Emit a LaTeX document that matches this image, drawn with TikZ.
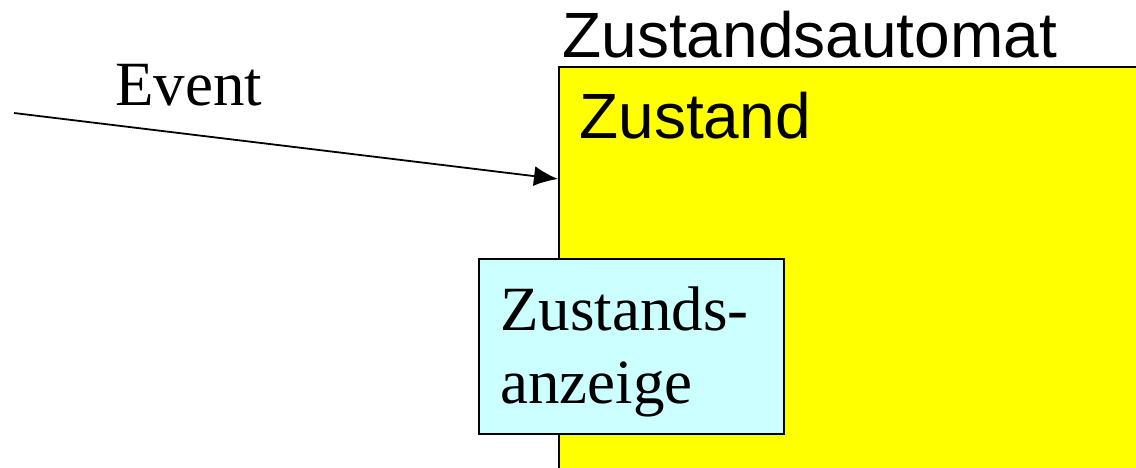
\documentclass[tikz,border=0pt]{standalone}
\usepackage{fontspec}
\setmainfont{Liberation Serif}
\setsansfont{Liberation Sans}
\usetikzlibrary{arrows.meta}
\definecolor{stateyellow}{HTML}{FFFF00}
\definecolor{dispcyan}{HTML}{CCFFFF}
\tikzset{
  boxline/.style={draw=black, line width=0.75pt},
  sanslabel/.style={font=\sffamily\fontsize{32pt}{37pt}\selectfont, inner sep=0pt, anchor=base west},
  seriflabel/.style={font=\rmfamily\fontsize{31.5pt}{37pt}\selectfont, inner sep=0pt, anchor=base west},
  eventarrow/.style={line width=0.9pt, -{Latex[length=12pt,width=10pt]}}
}
\begin{document}
\begin{tikzpicture}[x=0.5pt,y=-0.5pt]
\clip (0,0) rectangle (1136,467);
\fill[white] (0,0) rectangle (1136,467);
% state machine box (extends past the picture's right and bottom)
\node[boxline, fill=stateyellow, rectangle, anchor=north west, inner sep=0pt,
      minimum width=300pt, minimum height=210pt] (automat) at (558,66) {};
% display box
\node[boxline, fill=dispcyan, rectangle, anchor=north west, inner sep=0pt,
      minimum width=152.5pt, minimum height=87.5pt] (anzeige) at (478,258) {};
% texts
\node[sanslabel] (titel) at (562,57) {Zustandsautomat};
\node[sanslabel] (zustand) at (579,138) {Zustand};
\node[seriflabel] (event) at (115,105) {Event};
\node[seriflabel] (anz1) at (500,330) {Zustands-};
\node[seriflabel] (anz2) at (500,403) {anzeige};
% event arrow
\coordinate (evstart) at (14,113);
\coordinate (evend) at (558,179);
\draw[eventarrow] (evstart) -- (evend);
\end{tikzpicture}
\end{document}
